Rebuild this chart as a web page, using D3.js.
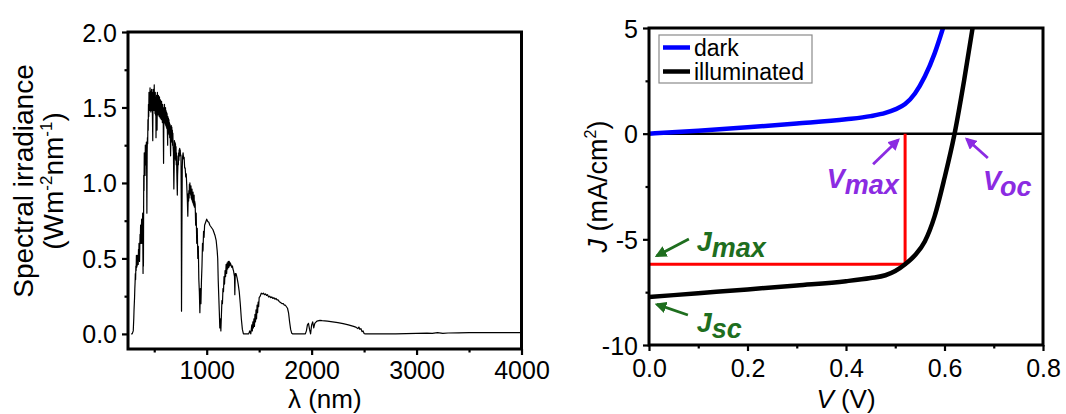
<!DOCTYPE html>
<html>
<head>
<meta charset="utf-8">
<script src="https://cdn.jsdelivr.net/npm/d3@7"></script>
<style>
  body { margin: 0; background: #fff; }
  text { font-family: "Liberation Sans", Arial, sans-serif; fill: #000; }
</style>
</head>
<body>
<svg id="chart" width="1066" height="414"></svg>
<script>
// ---- Solar spectrum (AM1.5G-like): [wavelength nm, irradiance W m^-2 nm^-1] ----
const solarSpectrum = [
  [280, 0], [290, 0], [300, 0.02], [302.5, 0.06], [305, 0.1], [307.5, 0.16], [310, 0.2], [312.5, 0.24],
  [315, 0.3], [317.5, 0.34], [320, 0.4], [322.5, 0.36], [325, 0.45], [327.5, 0.42], [330, 0.52], [332.5, 0.44],
  [335, 0.48], [337.5, 0.45], [340, 0.52], [342.5, 0.47], [345, 0.5], [347.5, 0.46], [350, 0.56], [352.5, 0.5],
  [355, 0.6], [357.5, 0.52], [360, 0.48], [362.5, 0.58], [365, 0.66], [367.5, 0.6], [370, 0.72], [372.5, 0.64],
  [375, 0.6], [377.5, 0.7], [380, 0.76], [382.5, 0.62], [385, 0.6], [387.5, 0.72], [390, 0.8], [392.5, 0.5],
  [393.5, 0.4], [395, 0.7], [397, 0.45], [400, 1.05], [402.5, 0.95], [405, 1.2], [407.5, 1.08], [410, 1.15],
  [412.5, 1.05], [415, 1.25], [417.5, 1.12], [420, 1.22], [422.5, 1.15], [425, 1.27], [427.5, 1.1], [430, 0.8],
  [432.5, 1.2], [435, 1.3], [437.5, 1.26], [440, 1.42], [442.5, 1.35], [445, 1.52], [447.5, 1.44], [450, 1.6],
  [452.5, 1.5], [455, 1.6], [457.5, 1.48], [460, 1.63], [462.5, 1.5], [465, 1.58], [467.5, 1.47], [470, 1.61],
  [472.5, 1.5], [475, 1.62], [477.5, 1.48], [480, 1.6], [482.5, 1.45], [486, 1.28], [488, 1.5], [490, 1.62],
  [492.5, 1.48], [495, 1.6], [497.5, 1.5], [500, 1.65], [502.5, 1.48], [505, 1.58], [507.5, 1.46], [510, 1.6],
  [512.5, 1.45], [515, 1.55], [517, 1.3], [519, 1.45], [522.5, 1.58], [525, 1.46], [527, 1.35], [530, 1.6],
  [532.5, 1.47], [535, 1.57], [537.5, 1.45], [540, 1.58], [542.5, 1.46], [545, 1.56], [547.5, 1.44], [550, 1.57],
  [552.5, 1.45], [555, 1.55], [557.5, 1.43], [560, 1.55], [562.5, 1.43], [565, 1.54], [567.5, 1.42], [570, 1.54],
  [572.5, 1.42], [575, 1.52], [577.5, 1.4], [580, 1.52], [582.5, 1.41], [585, 1.5], [587, 1.3], [589, 1.13],
  [591, 1.35], [593, 1.5], [595, 1.42], [597.5, 1.52], [600, 1.4], [602.5, 1.5], [605, 1.39], [607.5, 1.5],
  [610, 1.38], [612.5, 1.48], [615, 1.37], [617.5, 1.47], [620, 1.36], [622.5, 1.46], [625, 1.35], [628, 1.25],
  [630, 1.44], [632.5, 1.34], [635, 1.43], [637.5, 1.33], [640, 1.42], [642.5, 1.32], [645, 1.4], [647.5, 1.3],
  [650, 1.39], [653, 1.3], [656, 1.18], [659, 1.32], [662.5, 1.38], [665, 1.28], [667.5, 1.37], [670, 1.27],
  [672.5, 1.35], [675, 1.25], [677.5, 1.33], [680, 1.24], [683, 1.2], [687, 0.96], [690, 1.1], [692.5, 1.28],
  [695, 1.18], [697.5, 1.27], [700, 1.16], [702.5, 1.26], [705, 1.15], [707.5, 1.24], [710, 1.12], [712.5, 1.2],
  [715, 1.08], [717.5, 1.0], [720, 0.92], [722.5, 1.05], [725, 1.1], [727.5, 1.18], [730, 1.12], [732.5, 1.2],
  [735, 1.15], [737.5, 1.22], [740, 1.18], [742.5, 1.23], [745, 1.18], [747.5, 1.22], [750, 1.19], [755, 1.18],
  [757.5, 0.9], [760, 0.15], [763, 0.6], [767, 1.1], [770, 1.17], [775, 1.2], [780, 1.16], [785, 1.17],
  [790, 1.1], [795, 1.1], [800, 1.04], [805, 1.06], [810, 0.98], [815, 0.9], [820, 0.78], [822.5, 0.86],
  [825, 0.93], [827.5, 0.88], [830, 0.95], [832.5, 0.9], [835, 0.99], [837.5, 0.93], [840, 1.0], [842.5, 0.94],
  [845, 0.98], [847.5, 0.92], [850, 0.98], [852.5, 0.9], [855, 0.95], [857.5, 0.89], [860, 0.96], [862.5, 0.88],
  [865, 0.93], [867.5, 0.87], [870, 0.94], [872.5, 0.86], [875, 0.9], [877.5, 0.85], [880, 0.92], [882.5, 0.84],
  [885, 0.88], [890, 0.86], [895, 0.72], [900, 0.8], [905, 0.6], [910, 0.7], [915, 0.5], [920, 0.58],
  [925, 0.36], [930, 0.28], [935, 0.14], [940, 0.3], [945, 0.2], [950, 0.35], [955, 0.45], [960, 0.6],
  [965, 0.55], [970, 0.68], [975, 0.64], [980, 0.72], [990, 0.74], [1000, 0.76], [1010, 0.745], [1020, 0.74],
  [1030, 0.72], [1040, 0.71], [1050, 0.7], [1060, 0.69], [1070, 0.67], [1080, 0.65], [1090, 0.62], [1100, 0.55],
  [1105, 0.5], [1110, 0.35], [1115, 0.25], [1120, 0.15], [1125, 0.04], [1130, 0.1], [1135, 0.02], [1140, 0.12],
  [1145, 0.22], [1150, 0.2], [1155, 0.3], [1160, 0.28], [1165, 0.38], [1170, 0.33], [1175, 0.42], [1180, 0.38],
  [1185, 0.46], [1190, 0.4], [1195, 0.47], [1200, 0.43], [1205, 0.48], [1210, 0.44], [1215, 0.48], [1220, 0.45],
  [1225, 0.47], [1230, 0.46], [1235, 0.45], [1240, 0.44], [1245, 0.45], [1250, 0.43], [1255, 0.42], [1260, 0.4],
  [1265, 0.38], [1268, 0.26], [1272, 0.4], [1280, 0.4], [1290, 0.37], [1300, 0.33], [1310, 0.28], [1320, 0.2],
  [1330, 0.1], [1340, 0.03], [1350, 0], [1400, 0], [1410, 0.02], [1420, 0], [1430, 0.06], [1435, 0.02],
  [1440, 0.08], [1445, 0.04], [1450, 0.1], [1455, 0.05], [1460, 0.13], [1465, 0.08], [1470, 0.16], [1475, 0.1],
  [1480, 0.19], [1485, 0.14], [1490, 0.21], [1495, 0.18], [1500, 0.24], [1510, 0.25], [1520, 0.27], [1530, 0.265],
  [1540, 0.27], [1550, 0.26], [1560, 0.265], [1570, 0.255], [1580, 0.26], [1590, 0.245], [1600, 0.25], [1610, 0.24],
  [1620, 0.245], [1630, 0.235], [1640, 0.24], [1650, 0.23], [1660, 0.235], [1670, 0.225], [1680, 0.225], [1690, 0.215],
  [1700, 0.21], [1710, 0.205], [1720, 0.2], [1730, 0.2], [1740, 0.19], [1750, 0.19], [1760, 0.18], [1770, 0.17],
  [1780, 0.14], [1790, 0.08], [1800, 0.03], [1810, 0.005], [1820, 0], [1940, 0], [1950, 0.02], [1960, 0.06],
  [1970, 0.07], [1980, 0.03], [1990, 0], [2000, 0.06], [2010, 0.08], [2020, 0.04], [2030, 0.07], [2050, 0.085],
  [2080, 0.09], [2100, 0.088], [2150, 0.085], [2200, 0.08], [2250, 0.075], [2300, 0.068], [2350, 0.06], [2400, 0.05],
  [2420, 0.045], [2440, 0.035], [2450, 0.045], [2460, 0.03], [2470, 0.035], [2480, 0.015], [2490, 0.02], [2500, 0.003],
  [2510, 0], [2800, 0], [2900, 0.002], [3000, 0.004], [3100, 0.005], [3150, 0.003], [3200, 0.008], [3250, 0.004],
  [3300, 0.006], [3400, 0.007], [3500, 0.009], [3600, 0.008], [3700, 0.009], [3800, 0.009], [3900, 0.009], [4000, 0.008]
];
const spectrumYTicks = [0, 0.5, 1.0, 1.5, 2.0];
const spectrumYMinor = [0.25, 0.75, 1.25, 1.75];
const spectrumXTicks = [1000, 2000, 3000, 4000];
const spectrumXMinor = [500, 1500, 2500, 3500];

// ---- J-V curves ----
const darkVoltage = [0, 0.1, 0.2, 0.3, 0.4, 0.45, 0.48, 0.5, 0.52, 0.54, 0.56, 0.58, 0.597];
const darkCurrent = [0, 0.14, 0.3, 0.48, 0.68, 0.83, 0.98, 1.15, 1.4, 1.9, 2.7, 3.8, 5.0];
const lightVoltage = [0, 0.1, 0.2, 0.3, 0.4, 0.45, 0.48, 0.5, 0.52, 0.54, 0.56, 0.58, 0.6, 0.62, 0.64, 0.657];
const lightCurrent = [-7.73, -7.55, -7.37, -7.18, -6.98, -6.83, -6.7, -6.5, -6.18, -5.75, -5.1, -3.9, -2.1, -0.05, 2.55, 5.0];
const maxPowerPoint = { V: 0.52, J: -6.18 };
const jvXTicks = [0, 0.2, 0.4, 0.6, 0.8];
const jvXMinor = [0.1, 0.3, 0.5, 0.7];
const jvYTicks = [-10, -5, 0, 5];
const jvYMinor = [-7.5, -2.5, 2.5];
const legendItems = [
  { label: "dark", color: "#0000ff" },
  { label: "illuminated", color: "#000000" }
];

const purple = "#8b2be2";
const green = "#1e6e1e";

const svg = d3.select("#chart");

// arrowhead markers
const defs = svg.append("defs");
[["arrPurple", purple], ["arrGreen", green]].forEach(([id, c]) => {
  defs.append("marker")
    .attr("id", id).attr("viewBox", "0 0 10 10")
    .attr("refX", 8).attr("refY", 5)
    .attr("markerWidth", 4.2).attr("markerHeight", 4.2)
    .attr("markerUnits", "strokeWidth")
    .attr("orient", "auto")
    .append("path").attr("d", "M0,0 L10,5 L0,10 z").attr("fill", c);
});

function drawAxes(g, x, y, opts) {
  const [x0] = x.range();
  const [y0] = y.range(); // bottom edge
  const bx = g.append("g").attr("transform", `translate(0,${y0})`)
    .call(d3.axisBottom(x).tickValues(opts.xTicks).tickSize(6).tickFormat(opts.xFmt));
  const bxm = g.append("g").attr("transform", `translate(0,${y0})`)
    .call(d3.axisBottom(x).tickValues(opts.xMinor).tickSize(3.5).tickFormat(""));
  const ly = g.append("g").attr("transform", `translate(${x0},0)`)
    .call(d3.axisLeft(y).tickValues(opts.yTicks).tickSize(6).tickFormat(opts.yFmt));
  const lym = g.append("g").attr("transform", `translate(${x0},0)`)
    .call(d3.axisLeft(y).tickValues(opts.yMinor).tickSize(3.5).tickFormat(""));
  [bx, bxm, ly, lym].forEach(a => {
    a.select(".domain").remove();
    a.attr("font-family", null).attr("font-size", null);
    a.selectAll(".tick line").attr("stroke-width", 2.2);
  });
  bx.selectAll(".tick text").attr("y", opts.xLabelOffset).attr("dy", 0).style("font-size", "25px");
  ly.selectAll(".tick text").attr("x", -11).attr("dy", "0.36em").style("font-size", "25px");
}

function frame(g, x, y) {
  const [x0, x1] = x.range();
  const [y0, y1] = y.range();
  g.append("rect").attr("x", x0).attr("y", y1)
    .attr("width", x1 - x0).attr("height", y0 - y1)
    .attr("fill", "none").attr("stroke", "#000").attr("stroke-width", 3);
}

// ================= Left panel: spectrum =================
const xL = d3.scaleLinear().domain([250, 4000]).range([128, 521.5]);
const yL = d3.scaleLinear().domain([-0.1, 2.0]).range([349, 32]);
const gL = svg.append("g");

gL.append("path")
  .datum(solarSpectrum)
  .attr("fill", "none").attr("stroke", "#000").attr("stroke-width", 1.2)
  .attr("stroke-linejoin", "round")
  .attr("d", d3.line().x(d => xL(d[0])).y(d => yL(d[1])));

drawAxes(gL, xL, yL, {
  xTicks: spectrumXTicks, xMinor: spectrumXMinor, xFmt: d3.format("d"), xLabelOffset: 30,
  yTicks: spectrumYTicks, yMinor: spectrumYMinor, yFmt: d3.format(".1f")
});
frame(gL, xL, yL);

gL.append("text").attr("x", d3.mean(xL.range())).attr("y", 408)
  .attr("text-anchor", "middle").style("font-size", "26px").text("λ (nm)");

const yTitleL = gL.append("g").attr("transform", "translate(0,181) rotate(-90)");
yTitleL.append("text").attr("x", 0).attr("y", 33).attr("text-anchor", "middle")
  .style("font-size", "28px").text("Spectral irradiance");
const t2 = yTitleL.append("text").attr("x", 0).attr("y", 63).attr("text-anchor", "middle")
  .style("font-size", "28px");
t2.append("tspan").text("(Wm");
t2.append("tspan").attr("dy", -11).style("font-size", "17px").text("-2");
t2.append("tspan").attr("dy", 11).text("nm");
t2.append("tspan").attr("dy", -11).style("font-size", "17px").text("-1");
t2.append("tspan").attr("dy", 11).text(")");

// ================= Right panel: J-V =================
const xR = d3.scaleLinear().domain([0, 0.8]).range([649, 1043]);
const yR = d3.scaleLinear().domain([-10, 5]).range([345, 28]);
const gR = svg.append("g");

// zero-current line
gR.append("line")
  .attr("x1", xR(0)).attr("x2", xR(0.8)).attr("y1", yR(0)).attr("y2", yR(0))
  .attr("stroke", "#000").attr("stroke-width", 2.5);

// maximum power point guides
gR.append("path")
  .attr("d", `M${xR(0)},${yR(maxPowerPoint.J)}H${xR(maxPowerPoint.V)}V${yR(0)}`)
  .attr("fill", "none").attr("stroke", "#ff0000").attr("stroke-width", 3);

const jvLine = d3.line().curve(d3.curveMonotoneX).x(d => xR(d[0])).y(d => yR(d[1]));
gR.append("path")
  .datum(darkVoltage.map((v, i) => [v, darkCurrent[i]]))
  .attr("fill", "none").attr("stroke", "#0000ff").attr("stroke-width", 4.5)
  .attr("d", jvLine);
gR.append("path")
  .datum(lightVoltage.map((v, i) => [v, lightCurrent[i]]))
  .attr("fill", "none").attr("stroke", "#000").attr("stroke-width", 4.5)
  .attr("d", jvLine);

drawAxes(gR, xR, yR, {
  xTicks: jvXTicks, xMinor: jvXMinor, xFmt: d3.format(".1f"), xLabelOffset: 32,
  yTicks: jvYTicks, yMinor: jvYMinor, yFmt: d => String(d)
});
frame(gR, xR, yR);

const xtR = gR.append("text").attr("x", d3.mean(xR.range())).attr("y", 408)
  .attr("text-anchor", "middle").style("font-size", "26px");
xtR.append("tspan").style("font-style", "italic").text("V");
xtR.append("tspan").text(" (V)");

const ytR = gR.append("text")
  .attr("transform", `translate(607,${d3.mean(yR.range())}) rotate(-90)`)
  .attr("text-anchor", "middle").style("font-size", "27px");
ytR.append("tspan").style("font-style", "italic").text("J");
ytR.append("tspan").text(" (mA/cm");
ytR.append("tspan").attr("dy", -11).style("font-size", "16px").text("2");
ytR.append("tspan").attr("dy", 11).text(")");

// legend
const lg = gR.append("g");
lg.append("rect").attr("x", 659).attr("y", 35).attr("width", 153).attr("height", 48)
  .attr("fill", "#fff").attr("stroke", "#8a8a8a").attr("stroke-width", 1.2);
legendItems.forEach((d, i) => {
  const cy = 47.5 + i * 24;
  lg.append("line").attr("x1", 663).attr("x2", 690).attr("y1", cy).attr("y2", cy)
    .attr("stroke", d.color).attr("stroke-width", 4.5);
  lg.append("text").attr("x", 694).attr("y", cy + 8).style("font-size", "23px").text(d.label);
});

// annotations (positions in data units)
const annotations = [
  { main: "V", sub: "max", color: purple, marker: "arrPurple", text: [0.361, -2.58], from: [0.455, -1.45], to: [0.506, -0.3] },
  { main: "V", sub: "oc",  color: purple, marker: "arrPurple", text: [0.678, -2.67], from: [0.688, -1.15], to: [0.645, -0.25] },
  { main: "J", sub: "max", color: green,  marker: "arrGreen",  text: [0.097, -5.55], from: [0.081, -4.98], to: [0.016, -5.78] },
  { main: "J", sub: "sc",  color: green,  marker: "arrGreen",  text: [0.097, -9.38], from: [0.079, -8.58], to: [0.016, -8.08] }
];
annotations.forEach(a => {
  gR.append("line")
    .attr("x1", xR(a.from[0])).attr("y1", yR(a.from[1]))
    .attr("x2", xR(a.to[0])).attr("y2", yR(a.to[1]))
    .attr("stroke", a.color).attr("stroke-width", 2.8)
    .attr("marker-end", `url(#${a.marker})`);
  const t = gR.append("text").attr("x", xR(a.text[0])).attr("y", yR(a.text[1]))
    .style("font-size", "27px").style("font-weight", "bold").style("font-style", "italic")
    .style("fill", a.color);
  t.append("tspan").text(a.main);
  t.append("tspan").attr("dy", 6).text(a.sub);
});
</script>
</body>
</html>
